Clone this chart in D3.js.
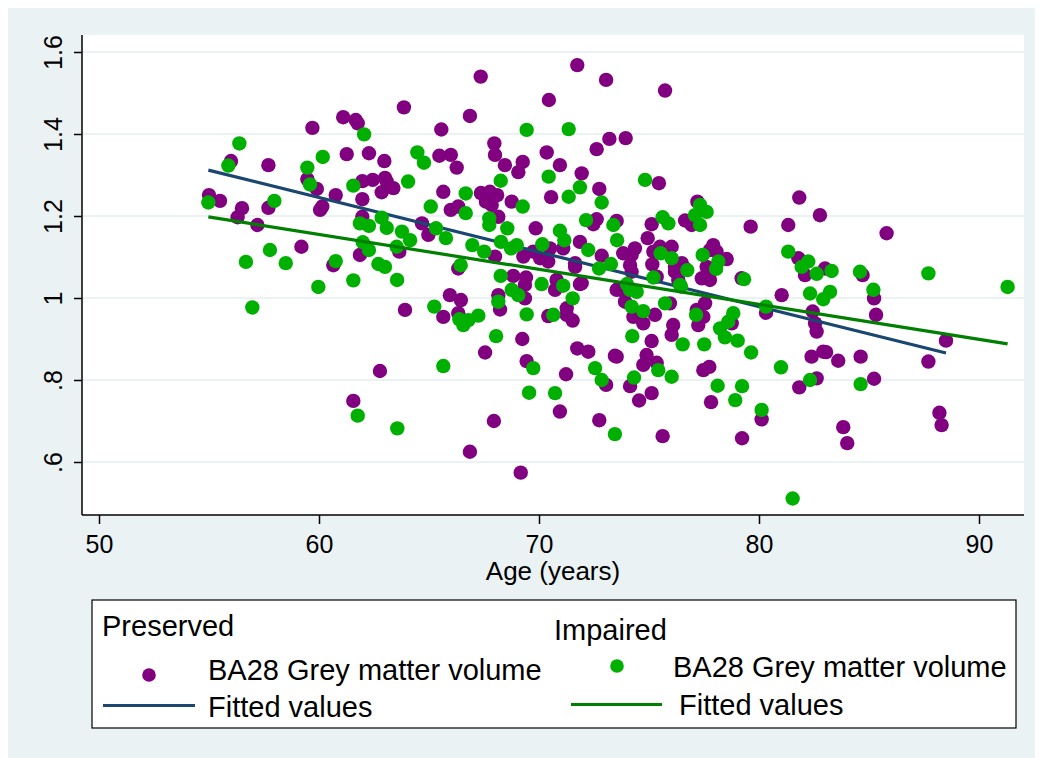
<!DOCTYPE html>
<html>
<head>
<meta charset="utf-8">
<script src="https://cdn.jsdelivr.net/npm/d3@7"></script>
<style>
  html, body { margin: 0; padding: 0; background: #ffffff; }
  svg { display: block; font-family: "Liberation Sans", Arial, sans-serif; }
</style>
</head>
<body>
<svg id="chart" width="1041" height="758"></svg>
<script>
// BA28 grey matter volume by age, preserved group: [age, volume]
const preserved = [
  [55.0,1.251],[55.5,1.237],[56.0,1.334],[57.7,1.324],[57.7,1.220],[56.5,1.219],[56.3,1.197],[57.2,1.178],
  [59.2,1.125],[59.7,1.415],[61.1,1.441],[61.67,1.434],[61.76,1.426],[61.26,1.351],[62.27,1.353],[62.97,1.334],
  [59.47,1.290],[59.9,1.266],[61.97,1.285],[62.44,1.288],[63.0,1.293],[63.08,1.284],[62.85,1.258],[63.38,1.268],
  [60.76,1.251],[61.97,1.241],[60.15,1.223],[60.05,1.215],[61.97,1.198],[61.86,1.105],[63.65,1.113],[60.65,1.080],
  [63.86,1.465],[67.35,1.540],[71.74,1.568],[73.05,1.532],[70.45,1.483],[66.86,1.444],[65.56,1.411],[73.2,1.388],
  [72.62,1.363],[70.35,1.355],[70.95,1.324],[65.47,1.347],[65.99,1.349],[66.26,1.318],[67.97,1.377],[68.0,1.349],
  [68.45,1.324],[69.26,1.332],[69.06,1.307],[71.94,1.304],[72.74,1.266],[65.65,1.259],[67.36,1.256],[67.77,1.259],
  [68.1,1.251],[67.59,1.235],[67.85,1.227],[68.76,1.235],[70.55,1.246],[65.99,1.215],[66.33,1.223],[68.15,1.198],
  [64.68,1.182],[64.97,1.154],[69.85,1.170],[72.62,1.192],[72.47,1.180],[68.0,1.101],[69.29,1.101],[69.74,1.113],
  [70.05,1.097],[70.42,1.089],[70.5,1.121],[71.1,1.121],[71.86,1.137],[71.64,1.085],[72.85,1.103],[66.33,1.072],
  [68.83,1.054],[69.41,1.050],[70.8,1.044],[71.94,1.036],[75.73,1.506],[73.94,1.390],[75.45,1.280],[81.83,1.245],
  [82.77,1.202],[77.2,1.235],[76.64,1.189],[76.94,1.178],[73.53,1.188],[79.62,1.174],[81.33,1.178],[74.94,1.146],
  [75.12,1.180],[74.36,1.121],[73.83,1.109],[74.21,1.105],[74.14,1.080],[74.21,1.064],[75.2,1.113],[76.03,1.125],
  [75.5,1.125],[75.15,1.082],[76.18,1.076],[76.49,1.085],[77.92,1.129],[77.77,1.117],[78.07,1.113],[78.53,1.095],
  [77.4,1.048],[77.77,1.044],[79.21,1.048],[81.79,1.097],[82.09,1.056],[83.0,1.072],[85.8,1.158],[84.71,1.056],
  [63.91,0.971],[62.77,0.822],[61.56,0.749],[65.95,1.007],[66.45,0.995],[65.65,0.954],[66.33,0.963],[68.15,1.007],
  [68.23,0.972],[69.36,0.999],[69.36,1.032],[70.73,1.020],[71.86,1.034],[70.42,0.956],[71.26,0.975],[71.26,0.959],
  [71.53,0.945],[69.24,0.900],[67.55,0.867],[69.44,0.846],[71.74,0.877],[72.24,0.869],[73.45,0.859],[71.23,0.814],
  [73.05,0.788],[70.95,0.723],[67.95,0.700],[72.74,0.702],[66.86,0.625],[69.17,0.574],[73.53,1.020],[73.91,0.991],
  [74.29,0.954],[74.74,0.938],[75.27,0.959],[75.95,0.987],[77.55,0.987],[77.17,0.971],[77.47,0.954],[77.24,0.934],
  [76.1,0.934],[76.03,0.910],[75.12,0.895],[78.76,0.938],[81.03,1.007],[80.32,0.964],[82.44,0.967],[82.55,0.938],
  [82.62,0.918],[73.53,0.857],[74.89,0.861],[74.74,0.837],[75.35,0.842],[74.14,0.785],[75.12,0.768],[74.55,0.750],
  [77.47,0.824],[77.74,0.832],[82.39,0.857],[82.92,0.869],[81.83,0.782],[82.62,0.804],[77.82,0.746],[80.12,0.704],
  [75.62,0.663],[79.23,0.658],[85.23,0.999],[85.32,0.959],[88.5,0.896],[83.05,0.868],[83.6,0.847],[84.62,0.857],
  [87.7,0.845],[85.23,0.803],[88.2,0.720],[88.3,0.690],[83.83,0.685],[84.01,0.646],[71.64,1.076],[75.35,1.052],
  [76.64,1.072],[76.18,1.064],[76.33,1.044],[77.62,1.076],[73.76,1.020]
];

// BA28 grey matter volume by age, impaired group: [age, volume]
const impaired = [
  [62.05,1.399],[56.38,1.377],[60.17,1.344],[55.88,1.323],[59.47,1.318],[59.59,1.277],[61.56,1.274],[64.05,1.284],
  [54.97,1.233],[57.97,1.237],[61.86,1.182],[62.27,1.176],[62.85,1.196],[63.08,1.171],[63.77,1.162],[61.99,1.136],
  [62.27,1.117],[63.53,1.125],[57.77,1.117],[56.68,1.088],[58.49,1.085],[60.76,1.090],[62.7,1.083],[63.0,1.076],
  [61.56,1.043],[59.97,1.027],[63.55,1.044],[69.44,1.410],[71.35,1.412],[64.47,1.355],[64.77,1.330],[70.44,1.296],
  [71.86,1.270],[71.35,1.247],[72.85,1.233],[68.26,1.286],[66.67,1.255],[69.26,1.223],[65.08,1.223],[66.67,1.207],
  [67.74,1.194],[67.74,1.178],[65.32,1.170],[65.77,1.146],[68.56,1.170],[70.95,1.164],[71.15,1.141],[72.14,1.190],
  [73.38,1.178],[73.55,1.141],[64.14,1.141],[66.97,1.129],[67.51,1.113],[68.27,1.137],[68.73,1.121],[68.99,1.129],
  [70.15,1.131],[72.24,1.117],[72.73,1.072],[73.27,1.083],[66.44,1.080],[68.26,1.054],[70.12,1.034],[71.1,1.030],
  [74.82,1.288],[77.32,1.227],[77.62,1.210],[77.09,1.202],[77.32,1.178],[75.62,1.197],[75.88,1.182],[75.53,1.109],
  [76.03,1.097],[76.74,1.068],[77.44,1.105],[78.15,1.089],[78.05,1.071],[79.32,1.046],[81.33,1.113],[82.24,1.089],
  [81.94,1.076],[82.62,1.059],[75.2,1.050],[76.41,1.032],[83.3,1.066],[84.59,1.064],[87.7,1.060],[91.3,1.027],
  [56.97,0.977],[61.76,0.713],[63.56,0.682],[65.24,0.979],[66.38,0.948],[66.56,0.934],[66.79,0.946],[67.24,0.957],
  [68.15,0.991],[68.76,1.020],[69.06,1.007],[71.53,0.999],[69.44,0.960],[70.65,0.959],[68.05,0.907],[65.65,0.834],
  [69.74,0.829],[72.55,0.829],[72.85,0.800],[69.55,0.769],[70.73,0.768],[73.45,0.668],[74.14,1.020],[74.44,1.015],
  [74.21,0.979],[74.74,0.968],[75.73,0.987],[76.45,1.028],[77.14,0.959],[74.24,0.907],[76.53,0.887],[77.51,0.887],
  [78.83,0.963],[78.6,0.942],[78.23,0.926],[78.45,0.904],[79.03,0.896],[79.64,0.867],[80.32,0.979],[82.32,1.011],
  [75.42,0.824],[76.03,0.808],[74.32,0.806],[81.0,0.831],[82.32,0.800],[78.12,0.786],[79.23,0.785],[78.92,0.751],
  [80.12,0.727],[81.53,0.511],[83.23,1.015],[82.92,0.997],[85.2,1.020],[84.62,0.790],[74.0,1.034]
];

// Linear fits (fitted values at the youngest and oldest age of each group)
const fitPreserved = [[54.97, 1.312], [88.5, 0.866]];
const fitImpaired  = [[54.97, 1.198], [91.3, 0.888]];

// Axis ticks and labels
const xTicks = [50, 60, 70, 80, 90];
const yTicks = [0.6, 0.8, 1.0, 1.2, 1.4, 1.6];
const yTickLabels = [".6", ".8", "1", "1.2", "1.4", "1.6"];

const colors = {
  bg: "#eaf2f3",
  preservedDot: "#800080",
  preservedLine: "#1a476f",
  impairedDot: "#00b000",
  impairedLine: "#008000",
  grid: "#eaf2f3"
};

const svg = d3.select("#chart");

// graph region
svg.append("rect").attr("x", 8).attr("y", 8).attr("width", 1027).attr("height", 750)
  .attr("fill", colors.bg);

// plot region
const plot = { left: 82, top: 35, right: 1024, bottom: 515 };
svg.append("rect").attr("x", plot.left).attr("y", plot.top)
  .attr("width", plot.right - plot.left).attr("height", plot.bottom - plot.top)
  .attr("fill", "#ffffff");

const x = d3.scaleLinear().domain([50, 90]).range([99, 979]);
const y = d3.scaleLinear().domain([0.6, 1.6]).range([462, 52]);

// horizontal grid lines
svg.append("g").selectAll("line").data(yTicks).join("line")
  .attr("x1", plot.left).attr("x2", plot.right)
  .attr("y1", d => y(d)).attr("y2", d => y(d))
  .attr("stroke", colors.grid).attr("stroke-width", 2);

// points and fitted lines
const line = d3.line().x(d => x(d[0])).y(d => y(d[1]));

svg.append("g").selectAll("circle").data(preserved).join("circle")
  .attr("cx", d => x(d[0])).attr("cy", d => y(d[1])).attr("r", 7.2)
  .attr("fill", colors.preservedDot);

svg.append("path").datum(fitPreserved).attr("d", line)
  .attr("fill", "none").attr("stroke", colors.preservedLine).attr("stroke-width", 3.2);

svg.append("g").selectAll("circle").data(impaired).join("circle")
  .attr("cx", d => x(d[0])).attr("cy", d => y(d[1])).attr("r", 7.2)
  .attr("fill", colors.impairedDot);

svg.append("path").datum(fitImpaired).attr("d", line)
  .attr("fill", "none").attr("stroke", colors.impairedLine).attr("stroke-width", 3.2);

// y axis
const yAxis = svg.append("g").attr("transform", `translate(${plot.left},0)`)
  .call(d3.axisLeft(y).tickValues(yTicks).tickSize(8).tickSizeOuter(0)
    .tickFormat((d, i) => yTickLabels[i]));
yAxis.select(".domain").attr("d", `M0,${plot.top}V${plot.bottom}`)
  .attr("stroke", "#000").attr("stroke-width", 1.5);
yAxis.selectAll(".tick line").attr("stroke", "#000").attr("stroke-width", 1.5);
yAxis.selectAll(".tick text")
  .attr("transform", "rotate(-90)")
  .attr("x", 0).attr("y", -20).attr("dy", null)
  .attr("text-anchor", "middle")
  .attr("font-size", 25).attr("font-family", "Liberation Sans, Arial, sans-serif")
  .attr("fill", "#000");

// x axis
const xAxis = svg.append("g").attr("transform", `translate(0,${plot.bottom})`)
  .call(d3.axisBottom(x).tickValues(xTicks).tickSize(9).tickSizeOuter(0).tickFormat(d3.format("d")));
xAxis.select(".domain").attr("d", `M${plot.left},0H${plot.right}`)
  .attr("stroke", "#000").attr("stroke-width", 1.5);
xAxis.selectAll(".tick line").attr("stroke", "#000").attr("stroke-width", 1.5);
xAxis.selectAll(".tick text")
  .attr("y", 38).attr("dy", null)
  .attr("font-size", 25).attr("font-family", "Liberation Sans, Arial, sans-serif")
  .attr("fill", "#000");

svg.append("text").attr("x", 553).attr("y", 580).attr("text-anchor", "middle")
  .attr("font-size", 26).text("Age (years)");

// legend
const lg = svg.append("g");
lg.append("rect").attr("x", 92).attr("y", 600).attr("width", 924).attr("height", 128)
  .attr("fill", "#fff").attr("stroke", "#000").attr("stroke-width", 1.2);

const legendCols = [
  { title: "Preserved", tx: 102, ty: 636, dot: colors.preservedDot, dx: 149, dy: 675,
    label1x: 208, label1y: 680, line: colors.preservedLine, lx1: 103, lx2: 195, ly: 705.5,
    label2x: 208, label2y: 716.5 },
  { title: "Impaired", tx: 554, ty: 640, dot: colors.impairedDot, dx: 617, dy: 666,
    label1x: 673, label1y: 677, line: colors.impairedLine, lx1: 571, lx2: 662, ly: 704.5,
    label2x: 679, label2y: 715 }
];

legendCols.forEach(c => {
  lg.append("text").attr("x", c.tx).attr("y", c.ty).attr("font-size", 29).text(c.title);
  lg.append("circle").attr("cx", c.dx).attr("cy", c.dy).attr("r", 6.8).attr("fill", c.dot);
  lg.append("text").attr("x", c.label1x).attr("y", c.label1y).attr("font-size", 29)
    .text("BA28 Grey matter volume");
  lg.append("line").attr("x1", c.lx1).attr("x2", c.lx2).attr("y1", c.ly).attr("y2", c.ly)
    .attr("stroke", c.line).attr("stroke-width", 3.2);
  lg.append("text").attr("x", c.label2x).attr("y", c.label2y).attr("font-size", 29)
    .text("Fitted values");
});
</script>
</body>
</html>
